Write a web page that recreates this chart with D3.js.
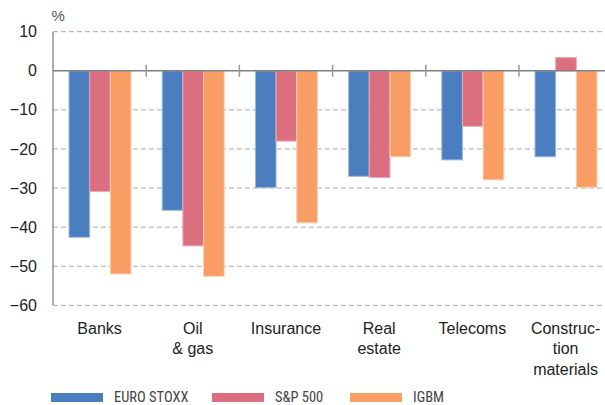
<!DOCTYPE html>
<html>
<head>
<meta charset="utf-8">
<script src="https://cdn.jsdelivr.net/npm/d3@7"></script>
<style>
  body { margin: 0; background: #fff; }
  svg { font-family: "Liberation Sans", Arial, sans-serif; }
</style>
</head>
<body>
<svg id="chart" width="605" height="405"></svg>
<script>
// Data
const categories = ["Banks", "Oil & gas", "Insurance", "Real estate", "Telecoms", "Construction materials"];
const categoryLines = [["Banks"], ["Oil", "& gas"], ["Insurance"], ["Real", "estate"], ["Telecoms"], ["Construc-", "tion", "materials"]];
const series = ["EURO STOXX", "S&P 500", "IGBM"];
const euroStoxx = [-42.6, -35.7, -29.9, -27.0, -22.8, -22.0];
const sp500 = [-30.9, -44.8, -18.0, -27.3, -14.2, 3.4];
const igbm = [-52.0, -52.6, -38.9, -22.0, -27.9, -29.8];
const yTicks = [10, 0, -10, -20, -30, -40, -50, -60];

const colors = ["#4a7ebf", "#db6e7f", "#f89e64"];
const strokes = ["#9fb9dd", "#eeaab4", "#fbd0b0"];
const values = [euroStoxx, sp500, igbm];

const svg = d3.select("#chart");
const left = 53, catW = 93.2;

const x = d3.scaleBand()
    .domain(categories)
    .range([left, left + catW * categories.length]);
const xs = d3.scaleBand()
    .domain(series)
    .range([16, 78]);
const y = d3.scaleLinear()
    .domain([-60, 10])
    .range([305.3, 31.7]);

// gridlines
svg.append("g")
    .selectAll("line")
    .data(yTicks.filter(d => d !== 0))
    .join("line")
      .attr("x1", left).attr("x2", 605)
      .attr("y1", d => y(d)).attr("y2", d => y(d))
      .attr("stroke", "#aaa")
      .attr("stroke-width", 1)
      .attr("stroke-dasharray", "5,3");

// y axis labels
const yAxis = svg.append("g")
    .attr("transform", `translate(${left},0)`)
    .call(d3.axisLeft(y).tickValues(yTicks).tickSize(0).tickPadding(16).tickFormat(d3.format("d")));
yAxis.select(".domain").remove();
yAxis.selectAll("text")
    .attr("font-size", 16)
    .attr("fill", "#222")
    .attr("font-family", "Liberation Sans, Arial, sans-serif");

svg.append("line")
    .attr("x1", left).attr("x2", left)
    .attr("y1", y(10)).attr("y2", y(-60))
    .attr("stroke", "#777").attr("stroke-width", 1.2);

svg.append("text")
    .attr("x", 51.5).attr("y", 21)
    .attr("font-size", 15)
    .attr("fill", "#555")
    .text("%");

// bars
const rows = [];
categories.forEach((c, i) => series.forEach((s, j) => rows.push({c, s, j, v: values[j][i]})));

svg.append("g")
    .selectAll("rect")
    .data(rows)
    .join("rect")
      .attr("x", d => x(d.c) + xs(d.s))
      .attr("width", xs.bandwidth())
      .attr("y", d => y(Math.max(0, d.v)))
      .attr("height", d => Math.abs(y(d.v) - y(0)))
      .attr("fill", d => colors[d.j])
      .attr("stroke", d => strokes[d.j])
      .attr("stroke-width", 1);

// zero line
svg.append("line")
    .attr("x1", left).attr("x2", 605)
    .attr("y1", y(0)).attr("y2", y(0))
    .attr("stroke", "#808080").attr("stroke-width", 1.5);

// category separator ticks
svg.append("g")
    .selectAll("line")
    .data(categories.slice(1))
    .join("line")
      .attr("x1", d => x(d)).attr("x2", d => x(d))
      .attr("y1", y(0) - 6).attr("y2", y(0) + 6)
      .attr("stroke", "#999").attr("stroke-width", 1.5);

// category labels
const labels = svg.append("g")
    .selectAll("text")
    .data(categories)
    .join("text")
      .attr("text-anchor", "middle")
      .attr("font-size", 16)
      .attr("fill", "#222")
      .attr("x", d => x(d) + x.bandwidth() / 2)
      .attr("y", 334);
labels.selectAll("tspan")
    .data((d, i) => categoryLines[i])
    .join("tspan")
      .attr("x", function() { return this.parentNode.getAttribute("x"); })
      .attr("dy", (d, i) => i === 0 ? 0 : 20.3)
      .text(d => d);

// legend
const legendX = [51, 212, 350];
const legend = svg.append("g")
    .selectAll("g")
    .data(series)
    .join("g")
      .attr("transform", (d, i) => `translate(${legendX[i]},393)`);
legend.append("rect")
    .attr("width", 52).attr("height", 9)
    .attr("fill", (d, i) => colors[i]);
legend.append("text")
    .attr("x", 63).attr("y", 9)
    .attr("font-size", 14.5)
    .attr("fill", "#444")
    .attr("font-family", "Liberation Sans Narrow, Roboto Condensed, Arial Narrow, sans-serif")
    .text(d => d);
</script>
</body>
</html>
